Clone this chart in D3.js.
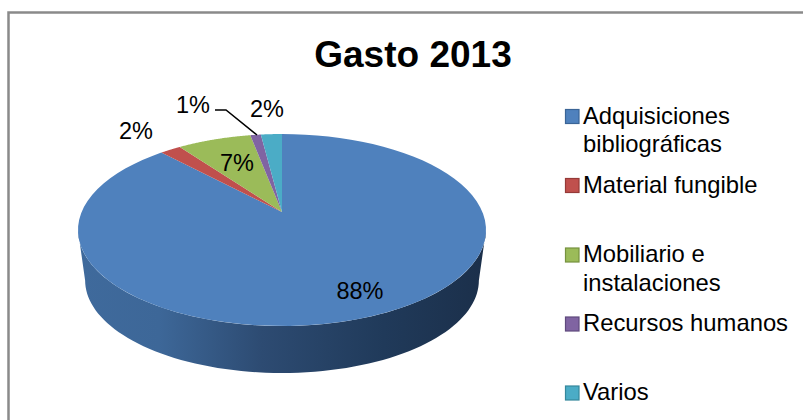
<!DOCTYPE html>
<html>
<head>
<meta charset="utf-8">
<script src="https://cdn.jsdelivr.net/npm/d3@7"></script>
<style>
  body { margin: 0; background: #fff; }
  text { font-family: "Liberation Sans", Arial, sans-serif; fill: #000; }
</style>
</head>
<body>
<div id="chart"></div>
<script>
const categories = ["Adquisiciones bibliográficas", "Material fungible", "Mobiliario e instalaciones", "Recursos humanos", "Varios"];
const legendLines = [["Adquisiciones", "bibliográficas"], ["Material fungible"], ["Mobiliario e", "instalaciones"], ["Recursos humanos"], ["Varios"]];
const values = [88, 2, 7, 1, 2];
const colors = ["#4f81bd", "#c0504d", "#9bbb59", "#8064a2", "#4bacc6"];
const borders = ["#3a6496", "#953a38", "#76923f", "#5f4a7d", "#35879c"];
const labelPos = [[360, 299], [136, 139], [237, 171], [193, 113], [267, 117]];

const width = 803, height = 420;
const svg = d3.select("#chart").append("svg").attr("width", width).attr("height", height);

// chart frame, only top and left survive in the original crop
svg.append("path")
  .attr("d", "M8.5,420V12.5H803")
  .attr("fill", "none")
  .attr("stroke", "#8a8a8a")
  .attr("stroke-width", 2.5);

svg.append("text")
  .attr("x", 413).attr("y", 67)
  .attr("text-anchor", "middle")
  .style("font-size", "37px").style("font-weight", "bold")
  .text("Gasto 2013");

// tilted pie: circle through a perspective projection
const apex = [282, 212];
const A = 200.4, B = 92.6, k = 0.1875;
const project = (a, s = 1, dy = 0) => {
  const d = 1 + k * Math.cos(a);
  return [apex[0] + s * A * Math.sin(a) / d, apex[1] + dy - s * B * Math.cos(a) / d];
};
const line = d3.line();
const arcPoints = (a0, a1, s, dy) => d3.range(0, 81).map(i => project(a0 + (a1 - a0) * i / 80, s, dy));

const pie = d3.pie().sort(null).value(d => d);
const slices = pie(values);

const grad = svg.append("defs").append("linearGradient")
  .attr("id", "side").attr("gradientUnits", "userSpaceOnUse")
  .attr("x1", 78).attr("x2", 486).attr("y1", 0).attr("y2", 0);
[[0, "#3f6a9c"], [0.2, "#3d6798"], [0.45, "#2d4b72"], [0.75, "#203a5a"], [1, "#1b2f4a"]]
  .forEach(s => grad.append("stop").attr("offset", s[0]).attr("stop-color", s[1]));

// side wall, front half only
const sideTop = arcPoints(Math.PI * 0.5 + 0.19, Math.PI * 1.5 - 0.19, 1, 0);
const sideBottom = arcPoints(Math.PI * 1.5 - 0.19, Math.PI * 0.5 + 0.19, 0.965, 47 + 4);
svg.append("path")
  .attr("d", line(sideTop.concat(sideBottom)) + "Z")
  .attr("fill", "url(#side)");

svg.selectAll("path.slice")
  .data(slices)
  .join("path")
  .attr("class", "slice")
  .attr("d", d => line([apex].concat(arcPoints(d.startAngle, d.endAngle, 1, 0))) + "Z")
  .attr("fill", (d, i) => colors[i]);

// data labels
svg.selectAll("text.value")
  .data(values)
  .join("text")
  .attr("class", "value")
  .attr("x", (d, i) => labelPos[i][0])
  .attr("y", (d, i) => labelPos[i][1])
  .attr("text-anchor", "middle")
  .style("font-size", "23.5px")
  .text(d => d + "%");

// leader line for the 1% label
svg.append("path")
  .attr("d", line([[215, 110], [226, 110], [257, 135]]))
  .attr("fill", "none")
  .attr("stroke", "#000")
  .attr("stroke-width", 1.5);

// legend
const legendY = [116.5, 185.5, 255, 324, 393];
const legend = svg.selectAll("g.legend")
  .data(categories)
  .join("g")
  .attr("class", "legend")
  .attr("transform", (d, i) => `translate(565,${legendY[i]})`);
legend.append("rect")
  .attr("x", 0.5).attr("y", -7)
  .attr("width", 13.5).attr("height", 14)
  .attr("fill", (d, i) => colors[i])
  .attr("stroke", (d, i) => borders[i])
  .attr("stroke-width", 1.2);
legend.selectAll("text")
  .data((d, i) => legendLines[i])
  .join("text")
  .attr("x", 18)
  .attr("y", (d, i) => 7 + i * 28.5)
  .style("font-size", "23.8px")
  .text(d => d);
</script>
</body>
</html>
